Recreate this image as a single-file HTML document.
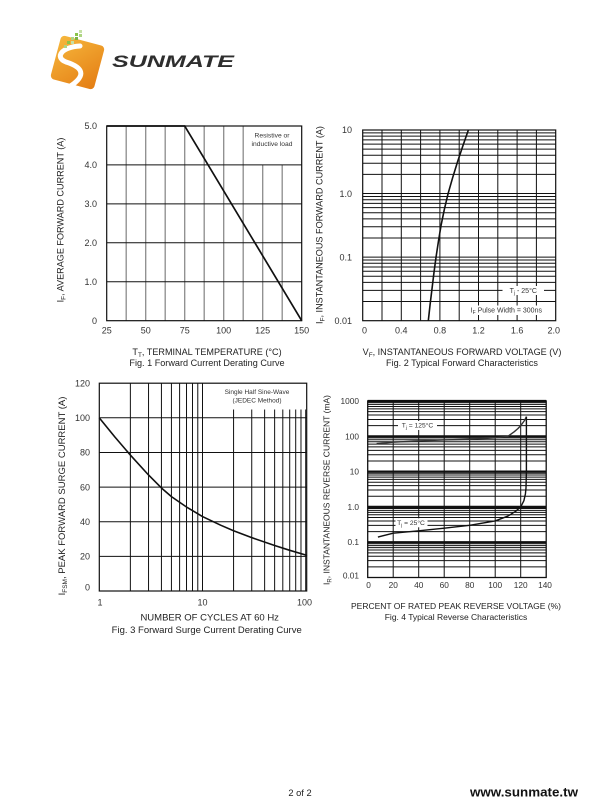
<!DOCTYPE html>
<html>
<head>
<meta charset="utf-8">
<style>
html,body{margin:0;padding:0;background:#fff;}
svg{display:block;}
</style>
</head>
<body>
<svg width="610" height="810" viewBox="0 0 610 810" xmlns="http://www.w3.org/2000/svg" font-family="'Liberation Sans', Arial, sans-serif">
<rect width="610" height="810" fill="#fff"/>

<!-- ============ LOGO ============ -->
<defs>
<linearGradient id="og" x1="0" y1="0" x2="1" y2="1">
<stop offset="0" stop-color="#f6b73c"/>
<stop offset="1" stop-color="#e47d14"/>
</linearGradient>
</defs>
<rect x="55" y="40" width="45" height="45" rx="4" fill="url(#og)" transform="rotate(15 77.5 62.5)"/>
<path d="M80,46 C62,47 54,57 66,62 C82,67 88,75 69,87" fill="none" stroke="#fff" stroke-width="5" stroke-linecap="round"/>
<g fill="#8bc34a">
<rect x="79" y="30" width="3" height="3" fill="#c5e1a5"/>
<rect x="75" y="33" width="3" height="3"/>
<rect x="79" y="34" width="3" height="3" fill="#aed581"/>
<rect x="71" y="37" width="3" height="3" fill="#aed581"/>
<rect x="75" y="37" width="3" height="3" fill="#7cb342"/>
<rect x="67" y="41" width="3" height="3"/>
<rect x="71" y="41" width="3" height="3" fill="#c5e1a5"/>
<rect x="64" y="45" width="3" height="3" fill="#aed581"/>
</g>
<text x="112" y="67" font-size="16.5" font-weight="bold" font-style="italic" fill="#2e2e2e" textLength="122" lengthAdjust="spacingAndGlyphs">SUNMATE</text>

<!-- ============ FIG 1 ============ -->
<path stroke="#8c8c8c" stroke-width="1.3" fill="none" d="M126.2,126V320.7M145.7,126V320.7M165.2,126V320.7M184.7,126V320.7M204.2,126V320.7M223.7,126V320.7M243.2,126V320.7M262.7,164.9V320.7M282.2,164.9V320.7"/>
<path stroke="#111" stroke-width="1" fill="none" d="M106.7,164.9H301.7M106.7,203.9H301.7M106.7,242.8H301.7M106.7,281.8H301.7"/>
<rect x="106.7" y="126" width="195" height="194.7" fill="none" stroke="#111" stroke-width="1.2"/>
<path d="M106.7,126H184.7L301.7,320.7" stroke="#111" stroke-width="1.7" fill="none"/>
<g font-size="6.7" fill="#333" text-anchor="middle">
<text x="272" y="137.5">Resistive or</text>
<text x="272" y="145.8">inductive load</text>
</g>
<g font-size="9" fill="#333" text-anchor="end">
<text x="97" y="129.2">5.0</text>
<text x="97" y="168.1">4.0</text>
<text x="97" y="207.1">3.0</text>
<text x="97" y="246">2.0</text>
<text x="97" y="285">1.0</text>
<text x="97" y="323.9">0</text>
</g>
<g font-size="9" fill="#333" text-anchor="middle">
<text x="106.7" y="333.5">25</text>
<text x="145.7" y="333.5">50</text>
<text x="184.7" y="333.5">75</text>
<text x="223.7" y="333.5">100</text>
<text x="262.7" y="333.5">125</text>
<text x="301.7" y="333.5">150</text>
</g>
<text x="207" y="354.8" font-size="9.1" fill="#222" text-anchor="middle">T<tspan font-size="6.4" dy="2">T</tspan><tspan dy="-2">, TERMINAL TEMPERATURE (°C)</tspan></text>
<text x="207" y="365.8" font-size="9.1" fill="#222" text-anchor="middle">Fig. 1  Forward Current Derating Curve</text>
<text transform="translate(63.6,220) rotate(-90)" font-size="9.1" fill="#222" text-anchor="middle">I<tspan font-size="6.4" dy="2">F</tspan><tspan dy="-2">, AVERAGE FORWARD CURRENT (A)</tspan></text>

<!-- ============ FIG 2 ============ -->
<path stroke="#111" stroke-width="1" fill="none" d="M382,130V320.7M401.3,130V320.7M420.6,130V320.7M439.9,130V320.7M459.2,130V320.7M478.5,130V320.7M497.8,130V320.7M517.1,130V320.7M536.4,130V320.7
M362.7,132.9H555.7M362.7,136.15H555.7M362.7,139.84H555.7M362.7,144.09H555.7M362.7,149.13H555.7M362.7,155.29H555.7M362.7,163.23H555.7M362.7,174.42H555.7M362.7,193.56H555.7
M362.7,196.47H555.7M362.7,199.72H555.7M362.7,203.41H555.7M362.7,207.66H555.7M362.7,212.7H555.7M362.7,218.86H555.7M362.7,226.8H555.7M362.7,238H555.7M362.7,257.13H555.7
M362.7,260.04H555.7M362.7,263.29H555.7M362.7,266.98H555.7M362.7,271.23H555.7M362.7,276.27H555.7M362.7,282.43H555.7M362.7,290.37H555.7M362.7,301.56H555.7"/>
<rect x="362.7" y="130" width="193" height="190.7" fill="none" stroke="#111" stroke-width="1.2"/>
<rect x="502.5" y="286" width="41.5" height="9" fill="#fff"/>
<rect x="468" y="305.5" width="77" height="9.5" fill="#fff"/>
<text x="523.3" y="292.8" font-size="7" fill="#333" text-anchor="middle">T<tspan font-size="5" dy="1.5">j</tspan><tspan dy="-1.5"> - 25°C</tspan></text>
<text x="506.3" y="312.6" font-size="7" fill="#333" text-anchor="middle">I<tspan font-size="5" dy="1.5">F</tspan><tspan dy="-1.5"> Pulse Width = 300ns</tspan></text>
<path d="M428.32,320.7 L430.06,304.81 L431.99,288.92 L433.92,273.02 L436.04,257.13 L438.45,241.24 L441.06,225.35 L444.34,209.45 L448.1,193.56 L452.64,177.67 L457.56,161.78 L462.87,145.89 L468.37,130" stroke="#111" stroke-width="1.6" fill="none" stroke-linejoin="round"/>
<g font-size="9" fill="#333" text-anchor="end">
<text x="352" y="133.2">10</text>
<text x="352" y="196.8">1.0</text>
<text x="352" y="260.3">0.1</text>
<text x="352" y="323.9">0.01</text>
</g>
<g font-size="9" fill="#333" text-anchor="middle">
<text x="364.5" y="333.5">0</text>
<text x="401.3" y="333.5">0.4</text>
<text x="439.9" y="333.5">0.8</text>
<text x="478.5" y="333.5">1.2</text>
<text x="517.1" y="333.5">1.6</text>
<text x="553.7" y="333.5">2.0</text>
</g>
<text x="462" y="354.8" font-size="9.1" fill="#222" text-anchor="middle">V<tspan font-size="6.4" dy="2">F</tspan><tspan dy="-2">, INSTANTANEOUS FORWARD VOLTAGE (V)</tspan></text>
<text x="462" y="365.8" font-size="9.1" fill="#222" text-anchor="middle">Fig. 2  Typical Forward Characteristics</text>
<text transform="translate(322.6,225) rotate(-90)" font-size="9.1" fill="#222" text-anchor="middle">I<tspan font-size="6.4" dy="2">F</tspan><tspan dy="-2">, INSTANTANEOUS FORWARD CURRENT (A)</tspan></text>

<!-- ============ FIG 3 ============ -->
<path stroke="#111" stroke-width="1" fill="none" d="M130.37,383.2V591M148.54,383.2V591M161.43,383.2V591M171.43,383.2V591M179.6,383.2V591M186.51,383.2V591M192.5,383.2V591M197.78,383.2V591M202.5,383.2V591
M233.57,409.5V591M251.74,409.5V591M264.63,409.5V591M274.63,409.5V591M282.8,409.5V591M289.71,409.5V591M295.7,409.5V591M300.98,409.5V591M305.7,409.5V591
M99.3,417.8H306.7M99.3,452.5H306.7M99.3,487.1H306.7M99.3,521.7H306.7M99.3,556.4H306.7"/>
<rect x="99.3" y="383.2" width="207.4" height="207.8" fill="none" stroke="#111" stroke-width="1.2"/>
<g font-size="6.5" fill="#333" text-anchor="middle">
<text x="257" y="394">Single Half Sine-Wave</text>
<text x="257" y="402.5">(JEDEC Method)</text>
</g>
<path d="M99.3,417.83 L114.78,436.88 L130.36,455.06 L148.53,474.98 L161.43,487.96 L171.44,496.62 L186.5,507.01 L202.5,516.54 L220.66,525.2 L233.56,530.74 L251.73,537.66 L274.64,545.46 L289.7,550.31 L305.7,555 L306.7,556" stroke="#111" stroke-width="1.6" fill="none" stroke-linejoin="round"/>
<g font-size="9" fill="#333" text-anchor="end">
<text x="90" y="386.4">120</text>
<text x="90" y="421">100</text>
<text x="90" y="455.7">80</text>
<text x="90" y="490.3">60</text>
<text x="90" y="524.9">40</text>
<text x="90" y="559.6">20</text>
<text x="90" y="590.5">0</text>
</g>
<g font-size="9" fill="#333" text-anchor="middle">
<text x="100" y="605.5">1</text>
<text x="202.5" y="605.5">10</text>
<text x="304.5" y="605.5">100</text>
</g>
<text x="209.7" y="620.3" font-size="9.5" fill="#222" text-anchor="middle">NUMBER OF CYCLES AT 60 Hz</text>
<text x="206.7" y="633" font-size="9.5" fill="#222" text-anchor="middle">Fig. 3  Forward Surge Current Derating Curve</text>
<text transform="translate(65,496) rotate(-90)" font-size="9.5" fill="#222" text-anchor="middle">I<tspan font-size="6.5" dy="2">FSM</tspan><tspan dy="-2">, PEAK FORWARD SURGE CURRENT (A)</tspan></text>

<!-- ============ FIG 4 ============ -->
<path stroke="#111" stroke-width="1" fill="none" d="M393.2,401V577.5M418.7,401V577.5M444.2,401V577.5M469.7,401V577.5M495.2,401V577.5M520.7,401V577.5
M367.7,566.87H546.2M367.7,560.66H546.2M367.7,556.25H546.2M367.7,552.83H546.2M367.7,550.03H546.2M367.7,547.67H546.2M367.7,545.62H546.2M367.7,543.81H546.2
M367.7,531.57H546.2M367.7,525.36H546.2M367.7,520.95H546.2M367.7,517.53H546.2M367.7,514.73H546.2M367.7,512.37H546.2M367.7,510.32H546.2M367.7,508.51H546.2
M367.7,496.27H546.2M367.7,490.06H546.2M367.7,485.65H546.2M367.7,482.23H546.2M367.7,479.43H546.2M367.7,477.07H546.2M367.7,475.02H546.2M367.7,473.21H546.2
M367.7,460.97H546.2M367.7,454.76H546.2M367.7,450.35H546.2M367.7,446.93H546.2M367.7,444.13H546.2M367.7,441.77H546.2M367.7,439.72H546.2M367.7,437.91H546.2
M367.7,425.67H546.2M367.7,419.46H546.2M367.7,415.05H546.2M367.7,411.63H546.2M367.7,408.83H546.2M367.7,406.47H546.2M367.7,404.42H546.2M367.7,402.61H546.2"/>
<path stroke="#111" stroke-width="2.2" fill="none" d="M367.7,401H546.2M367.7,436.3H546.2M367.7,471.6H546.2M367.7,506.9H546.2M367.7,542.2H546.2"/>
<rect x="367.7" y="401" width="178.5" height="176.5" fill="none" stroke="#111" stroke-width="1.3"/>
<rect x="398" y="421" width="39" height="9" fill="#fff"/>
<rect x="395.5" y="518.3" width="32" height="9" fill="#fff"/>
<text x="417.5" y="427.6" font-size="6.7" fill="#333" text-anchor="middle">T<tspan font-size="4.8" dy="1.4">j</tspan><tspan dy="-1.4"> = 125°C</tspan></text>
<text x="411" y="525" font-size="6.7" fill="#333" text-anchor="middle">T<tspan font-size="4.8" dy="1.4">j</tspan><tspan dy="-1.4"> = 25°C</tspan></text>
<path d="M376.6,443.63 L393.2,442.21 L418.7,440.92 L444.2,439.91 L469.7,439.16 L495.2,437.92 L507.95,436.3 L514.3,431.7 L518,428.5 L520.7,425.67 L524.5,420.51 L526.4,416.66" stroke="#333" stroke-width="1.4" fill="none" stroke-linejoin="round"/>
<path d="M377.9,537.04 L393.2,533.19 L418.7,530.83 L444.2,528.15 L469.7,525.36 L495.2,520.95 L507.95,516.06 L515.6,511.31 L520.7,506.9 L523.9,500.68 L525.4,494 L526,488 L526.4,471.6 L526.4,416.66" stroke="#111" stroke-width="1.4" fill="none" stroke-linejoin="round"/>
<g font-size="8.3" fill="#333" text-anchor="end">
<text x="359" y="404">1000</text>
<text x="359" y="439.3">100</text>
<text x="359" y="474.6">10</text>
<text x="359" y="509.9">1.0</text>
<text x="359" y="545.2">0.1</text>
<text x="359" y="578.5">0.01</text>
</g>
<g font-size="8.3" fill="#333" text-anchor="middle">
<text x="368.5" y="588">0</text>
<text x="393.2" y="588">20</text>
<text x="418.7" y="588">40</text>
<text x="444.2" y="588">60</text>
<text x="469.7" y="588">80</text>
<text x="495.2" y="588">100</text>
<text x="520.7" y="588">120</text>
<text x="545" y="588">140</text>
</g>
<text x="456" y="609" font-size="8.5" fill="#222" text-anchor="middle">PERCENT OF RATED PEAK REVERSE VOLTAGE (%)</text>
<text x="456" y="619.8" font-size="8.5" fill="#222" text-anchor="middle">Fig. 4  Typical Reverse Characteristics</text>
<text transform="translate(329.4,490) rotate(-90)" font-size="8.5" fill="#222" text-anchor="middle">I<tspan font-size="6" dy="2">R</tspan><tspan dy="-2">, INSTANTANEOUS REVERSE CURRENT (mA)</tspan></text>

<!-- ============ FOOTER ============ -->
<text x="300" y="796" font-size="9.3" fill="#222" text-anchor="middle">2 of 2</text>
<text x="470" y="796.5" font-size="13" font-weight="bold" fill="#111" textLength="108" lengthAdjust="spacingAndGlyphs">www.sunmate.tw</text>
</svg>
</body>
</html>
